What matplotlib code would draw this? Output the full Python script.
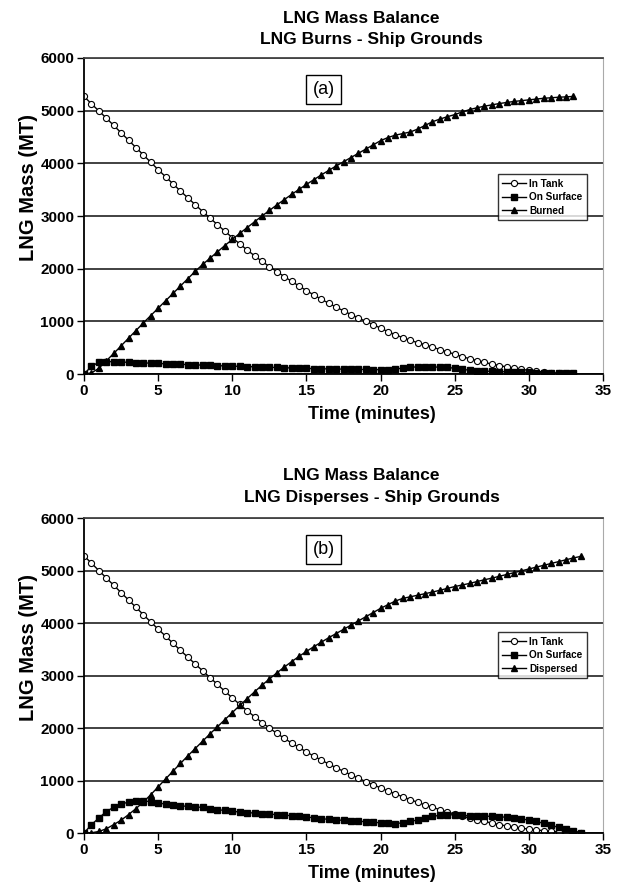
import numpy as np
import matplotlib
matplotlib.use("Agg")
from matplotlib import pyplot as plt

plt.rcParams['font.family'] = ['Liberation Sans', 'DejaVu Sans']

# time axis, half-minute steps
time_a = [i * 0.5 for i in range(67)]   # 0 .. 33
time_b = [i * 0.5 for i in range(68)]   # 0 .. 33.5

# (a) LNG burns
tank_a = [5270, 5130, 4995, 4860, 4720, 4580, 4440, 4300, 4160, 4020,
          3880, 3745, 3610, 3475, 3345, 3215, 3085, 2960, 2835, 2710,
          2590, 2470, 2355, 2245, 2140, 2040, 1945, 1850, 1760, 1670,
          1585, 1500, 1420, 1345, 1270, 1200, 1130, 1065, 1000, 940,
          870, 805, 745, 690, 640, 595, 555, 510, 465, 420,
          375, 330, 290, 255, 220, 190, 160, 135, 110, 88,
          70, 52, 38, 26, 16, 9, 4]
surface_a = [0, 145, 225, 235, 235, 228, 222, 217, 212, 206,
             200, 195, 190, 184, 179, 174, 169, 164, 159, 154,
             150, 146, 141, 137, 132, 128, 124, 119, 115, 110,
             106, 103, 100, 97, 95, 93, 90, 88, 86, 84,
             82, 80, 90, 115, 130, 135, 136, 134, 130, 124,
             110, 90, 72, 62, 56, 50, 46, 42, 38, 34,
             30, 26, 22, 19, 16, 13, 10]
burned_a = [0, 20, 110, 250, 390, 535, 680, 825, 970, 1110,
            1250, 1390, 1530, 1670, 1810, 1950, 2080, 2200, 2320, 2440,
            2555, 2670, 2780, 2890, 3000, 3105, 3210, 3310, 3410, 3505,
            3600, 3690, 3780, 3865, 3950, 4030, 4110, 4190, 4270, 4350,
            4430, 4490, 4535, 4565, 4595, 4650, 4720, 4790, 4840, 4885,
            4925, 4975, 5020, 5055, 5085, 5110, 5135, 5155, 5175, 5190,
            5205, 5220, 5235, 5245, 5255, 5262, 5270]

# (b) LNG disperses
tank_b = [5280, 5140, 5000, 4860, 4720, 4580, 4440, 4300, 4160, 4020,
          3885, 3750, 3615, 3480, 3350, 3220, 3090, 2960, 2830, 2700,
          2575, 2450, 2330, 2215, 2105, 2000, 1900, 1805, 1715, 1630,
          1545, 1465, 1390, 1315, 1245, 1175, 1110, 1045, 980, 920,
          860, 800, 745, 690, 635, 585, 535, 490, 445, 400,
          360, 320, 285, 250, 220, 190, 160, 135, 112, 92,
          75, 58, 45, 34, 25, 17, 10, 5]
surface_b = [0, 160, 285, 410, 490, 550, 590, 615, 615, 595,
             575, 550, 530, 518, 508, 498, 488, 465, 445, 430,
             415, 400, 390, 380, 370, 360, 350, 340, 330, 320,
             305, 290, 275, 260, 250, 242, 235, 225, 215, 205,
             195, 185, 180, 195, 220, 250, 285, 315, 340, 350,
             345, 335, 330, 328, 322, 318, 310, 300, 290, 270,
             245, 220, 185, 145, 110, 75, 40, 10]
dispersed_b = [0, 5, 30, 80, 160, 245, 350, 465, 590, 730,
               880, 1030, 1180, 1325, 1470, 1610, 1750, 1890, 2025, 2160,
               2295, 2430, 2560, 2690, 2815, 2935, 3050, 3160, 3265, 3365,
               3460, 3550, 3635, 3720, 3800, 3880, 3960, 4040, 4120, 4200,
               4280, 4350, 4420, 4470, 4500, 4530, 4560, 4590, 4625, 4660,
               4695, 4725, 4755, 4790, 4825, 4855, 4890, 4925, 4960, 4995,
               5030, 5065, 5100, 5135, 5170, 5205, 5240, 5270]

fig = plt.figure(figsize=(6.28, 8.88), dpi=100)


def panel(rect, t, tank, surface, third, third_name, tag, title2, title_y, legend_y):
    ax = fig.add_axes(rect)
    ax.plot(t, tank, color='black', lw=1, marker='o', ms=4.4, mfc='white',
            mec='black', mew=0.8, label='In Tank')
    ax.plot(t, surface, color='black', lw=1, marker='s', ms=3.8, label='On Surface')
    ax.plot(t, third, color='black', lw=1, marker='^', ms=3.8, label=third_name)
    ax.set_xlim(0, 35)
    ax.set_ylim(0, 6000)
    ax.set_xticks(range(0, 36, 5))
    ax.set_yticks(range(0, 6001, 1000))
    ax.yaxis.grid(True, color='#333333', lw=1.3)
    ax.set_axisbelow(True)
    for lab in ax.get_xticklabels() + ax.get_yticklabels():
        lab.set_fontweight('bold')
        lab.set_fontsize(11)
    ax.tick_params(length=5, width=1, direction='out', pad=2)
    ax.spines['left'].set_linewidth(1.3)
    ax.spines['bottom'].set_linewidth(1.3)
    ax.spines['top'].set_color('#444444')
    ax.spines['top'].set_linewidth(1.3)
    ax.spines['right'].set_color('#aaaaaa')
    ax.set_xlabel('Time (minutes)', fontsize=13, fontweight='bold')
    ax.xaxis.set_label_coords(0.555, -0.102)
    ax.set_ylabel('LNG Mass (MT)', fontsize=14.5, fontweight='bold')
    ax.yaxis.set_label_coords(-0.088, 0.59)
    ax.text(16.15, 5400, tag, fontsize=13, ha='center', va='center',
            bbox=dict(boxstyle='square,pad=0.35', fc='white', ec='black', lw=1))
    leg = ax.legend(loc='upper right', bbox_to_anchor=(0.979, legend_y),
                    frameon=True, fancybox=False, edgecolor='black',
                    handlelength=2.4, handletextpad=0.3, borderpad=0.45,
                    labelspacing=0.35, prop={'weight': 'bold', 'size': 7.2})
    leg.get_frame().set_linewidth(1)
    fig.text(0.575, title_y, 'LNG Mass Balance', ha='center', va='center',
             fontsize=12.5, fontweight='bold')
    fig.text(0.592, title_y - 0.024, title2, ha='center', va='center',
             fontsize=12.5, fontweight='bold')
    return ax


panel([0.1338, 0.5788, 0.8264, 0.3559], time_a, tank_a, surface_a, burned_a,
      'Burned', '(a)', 'LNG Burns - Ship Grounds', 0.979, 0.648)
panel([0.1338, 0.0619, 0.8264, 0.3547], time_b, tank_b, surface_b, dispersed_b,
      'Dispersed', '(b)', 'LNG Disperses - Ship Grounds', 0.464, 0.653)

fig.savefig('out.png', dpi=100)
